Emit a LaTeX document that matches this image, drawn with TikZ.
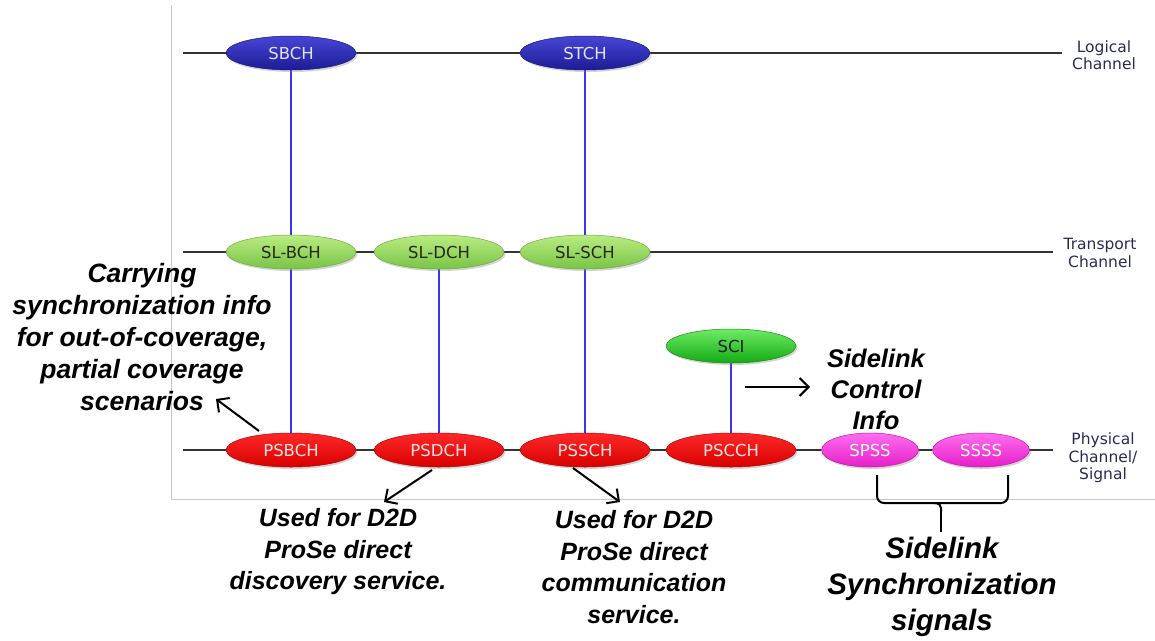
\documentclass[tikz,border=0pt]{standalone}
\usepackage{fontspec}
\setmainfont{Liberation Sans}
\newfontfamily\vfont{DejaVu Sans}
\usetikzlibrary{shapes.geometric,shadows,arrows.meta,backgrounds}
\definecolor{frameg}{HTML}{C8C8C8}
\definecolor{lineg}{HTML}{333333}
\definecolor{vblue}{HTML}{3636F0}
\definecolor{lbltxt}{HTML}{2A2A55}
\tikzset{
  chan/.style={ellipse, minimum width=130pt, minimum height=34pt, inner sep=0pt,
    font=\vfont\fontsize{16.5}{19}\selectfont,
    drop shadow={opacity=0.35, shadow xshift=1.5pt, shadow yshift=-2pt}},
  logic/.style={chan, top color={rgb,255:red,70;green,70;blue,215}, bottom color={rgb,255:red,28;green,28;blue,150}, draw={rgb,255:red,25;green,25;blue,120}, line width=0.5pt, text={rgb,255:red,225;green,225;blue,250}},
  trans/.style={chan, top color={rgb,255:red,186;green,236;blue,130}, bottom color={rgb,255:red,120;green,196;blue,70}, draw={rgb,255:red,110;green,170;blue,60}, line width=0.5pt, text={rgb,255:red,40;green,40;blue,20}},
  sci/.style={chan, top color={rgb,255:red,110;green,235;blue,100}, bottom color={rgb,255:red,20;green,170;blue,20}, draw={rgb,255:red,20;green,140;blue,20}, line width=0.5pt, text={rgb,255:red,20;green,30;blue,20}},
  phys/.style={chan, top color={rgb,255:red,255;green,40;blue,40}, bottom color={rgb,255:red,215;green,0;blue,0}, draw={rgb,255:red,180;green,0;blue,0}, line width=0.5pt, text={rgb,255:red,255;green,225;blue,225}},
  sig/.style={chan, minimum width=97pt, top color={rgb,255:red,255;green,110;blue,240}, bottom color={rgb,255:red,230;green,30;blue,200}, draw={rgb,255:red,190;green,20;blue,170}, line width=0.5pt, text=white},
  hline/.style={draw=lineg, line width=1.6pt},
  vline/.style={draw=vblue, line width=1.3pt},
  rlabel/.style={align=center, text=lbltxt, font=\vfont\fontsize{15.5}{17.5}\selectfont},
  note/.style={align=center, font=\bfseries\itshape\fontsize{25}{31.5}\selectfont},
  notebig/.style={align=center, font=\bfseries\itshape\fontsize{29.5}{36}\selectfont},
  arr/.style={line width=2pt, -{Straight Barb[length=9pt,width=18pt]}},
}
\begin{document}
\begin{tikzpicture}[x=1pt,y=-1pt]
\useasboundingbox (0,0) rectangle (1155,640);
% frame
\draw[frameg, line width=1pt] (171,5) coordinate (ftop) -- (171,499) coordinate (fcorner) -- (1155,499) coordinate (fright);

% nodes
\node[logic] (SBCH) at (291,53) {SBCH};
\node[logic] (STCH) at (585,53) {STCH};
\node[trans] (SLBCH) at (291,252) {SL-BCH};
\node[trans] (SLDCH) at (439,252) {SL-DCH};
\node[trans] (SLSCH) at (585,252) {SL-SCH};
\node[sci] (SCI) at (731,346) {SCI};
\node[phys] (PSBCH) at (291,450) {PSBCH};
\node[phys] (PSDCH) at (439,450) {PSDCH};
\node[phys] (PSSCH) at (585,450) {PSSCH};
\node[phys] (PSCCH) at (731,450) {PSCCH};
\node[sig] (SPSS) at (870,450) {SPSS};
\node[sig] (SSSS) at (981,450) {SSSS};

\coordinate (L0) at (183,53); \coordinate (L1) at (1062,53);
\coordinate (T0) at (183,252); \coordinate (T1) at (1053,252);
\coordinate (P0) at (183,450); \coordinate (P1) at (1053,450);

\begin{scope}[on background layer]
\draw[hline] (L0) -- (L1);
\draw[hline] (T0) -- (T1);
\draw[hline] (P0) -- (P1);
\draw[vline] (SBCH) -- (PSBCH);
\draw[vline] (SLDCH) -- (PSDCH);
\draw[vline] (STCH) -- (PSSCH);
\draw[vline] (SCI) -- (PSCCH);
\end{scope}

% right labels
\node[rlabel] (lLog) at (1104,55) {Logical\\Channel};
\node[rlabel] (lTr) at (1100,253) {Transport\\Channel};
\node[rlabel] (lPh) at (1103,458) {Physical\\Channel/\\Signal};

% notes
\node[note, font=\bfseries\itshape\fontsize{26.5}{32}\selectfont] (nCarry) at (142,337) {Carrying\\synchronization info\\for out-of-coverage,\\partial coverage\\scenarios};
\node[note] (nDisc) at (338,552) {Used for D2D\\ProSe direct\\discovery service.};
\node[note] (nComm) at (634,567) {Used for D2D\\ProSe direct\\communication\\service.};
\node[note, font=\bfseries\itshape\fontsize{25.5}{31}\selectfont] (nSCI) at (876,389) {Sidelink\\Control\\Info};
\node[notebig] (nSync) at (942,587) {Sidelink\\Synchronization\\signals};

% arrows
\coordinate (a1s) at (259,431); \coordinate (a1e) at (216,399);
\coordinate (a2s) at (432,470); \coordinate (a2e) at (384,502);
\coordinate (a3s) at (573,468); \coordinate (a3e) at (620,502);
\coordinate (a4s) at (745,387); \coordinate (a4e) at (810,387);
\draw[arr] (a1s) -- (a1e);
\draw[arr] (a2s) -- (a2e);
\draw[arr] (a3s) -- (a3e);
\draw[arr] (a4s) -- (a4e);

% brace
\coordinate (b1) at (877,475); \coordinate (b2) at (1008,475); \coordinate (btip) at (941,532);
\draw[line width=2pt, rounded corners=7pt] (b1) -- (877,503) -- (941,503);
\draw[line width=2pt, rounded corners=7pt] (b2) -- (1008,503) -- (941,503);
\draw[line width=2pt, rounded corners=5pt] (934,503) -- (941,503) -- (941,512);
\draw[line width=2pt] (941,508) -- (btip);
\end{tikzpicture}
\end{document}
